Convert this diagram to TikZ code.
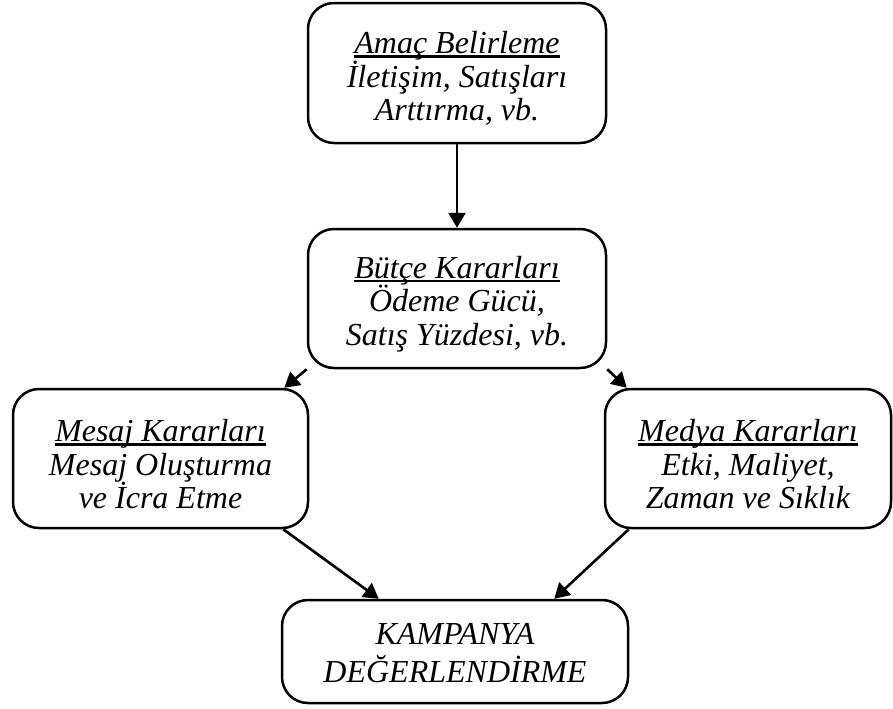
\documentclass[tikz,border=0pt]{standalone}
\usepackage{fontspec}
\setmainfont{Liberation Serif}
\usetikzlibrary{arrows.meta,calc}
% heading underline: fixed offset below the baseline, crossing descenders
\newcommand\headline[1]{\setbox0\hbox{#1}\rlap{\rule[-2.1pt]{\wd0}{1.3pt}}\box0}
\begin{document}
\begin{tikzpicture}[x=0.5pt,y=-0.5pt,
  box/.style={draw, line width=1.25pt, rounded corners=13pt, inner sep=0pt},
  txt/.style={align=center, inner sep=0pt, yshift=-2.8pt,
    font=\fontsize{16}{16.85}\selectfont\itshape},
  link/.style={line width=1.3pt, -{Triangle[length=7.5pt,width=8.5pt]}}]
\useasboundingbox (0,0) rectangle (893,708);

\node[box, minimum width=298pt*0.5, minimum height=140pt*0.5,
  label={[txt]center:{\headline{Amaç Belirleme}\\İletişim, Satışları\\Arttırma, vb.}}]
  (amac) at (457,73) {};
\node[box, minimum width=298pt*0.5, minimum height=139pt*0.5,
  label={[txt]center:{\headline{Bütçe Kararları}\\Ödeme Gücü,\\Satış Yüzdesi, vb.}}]
  (butce) at (457,298.5) {};
\node[box, minimum width=295pt*0.5, minimum height=139pt*0.5,
  label={[txt]center:{\headline{Mesaj Kararları}\\Mesaj Oluşturma\\ve İcra Etme}}]
  (mesaj) at (160.5,458.5) {};
\node[box, minimum width=286pt*0.5, minimum height=139pt*0.5,
  label={[txt]center:{\headline{Medya Kararları}\\Etki, Maliyet,\\Zaman ve Sıklık}}]
  (medya) at (748,458.5) {};
\node[box, minimum width=346pt*0.5, minimum height=103pt*0.5,
  label={[txt, yshift=1.8pt, font=\fontsize{16}{19}\selectfont\itshape]center:{KAMPANYA\\DEĞERLENDİRME}}]
  (kamp) at (455,651.5) {};

\coordinate (m1) at ($(mesaj.north east)+(-25,0)$);
\coordinate (d1) at ($(medya.north west)+(23,0)$);
\coordinate (m2) at ($(mesaj.south east)+(-26,0)$);
\coordinate (d2) at ($(medya.south west)+(25,0)$);
\coordinate (k1) at ($(kamp.north west)+(98,0)$);
\coordinate (k2) at ($(kamp.north east)+(-75,0)$);

\draw[link] (amac) -- (butce);
\draw[link] (butce.south west) -- (m1);
\draw[link] (butce.south east) -- (d1);
\draw[link] (m2) -- (k1);
\draw[link] (d2) -- (k2);
\end{tikzpicture}
\end{document}
